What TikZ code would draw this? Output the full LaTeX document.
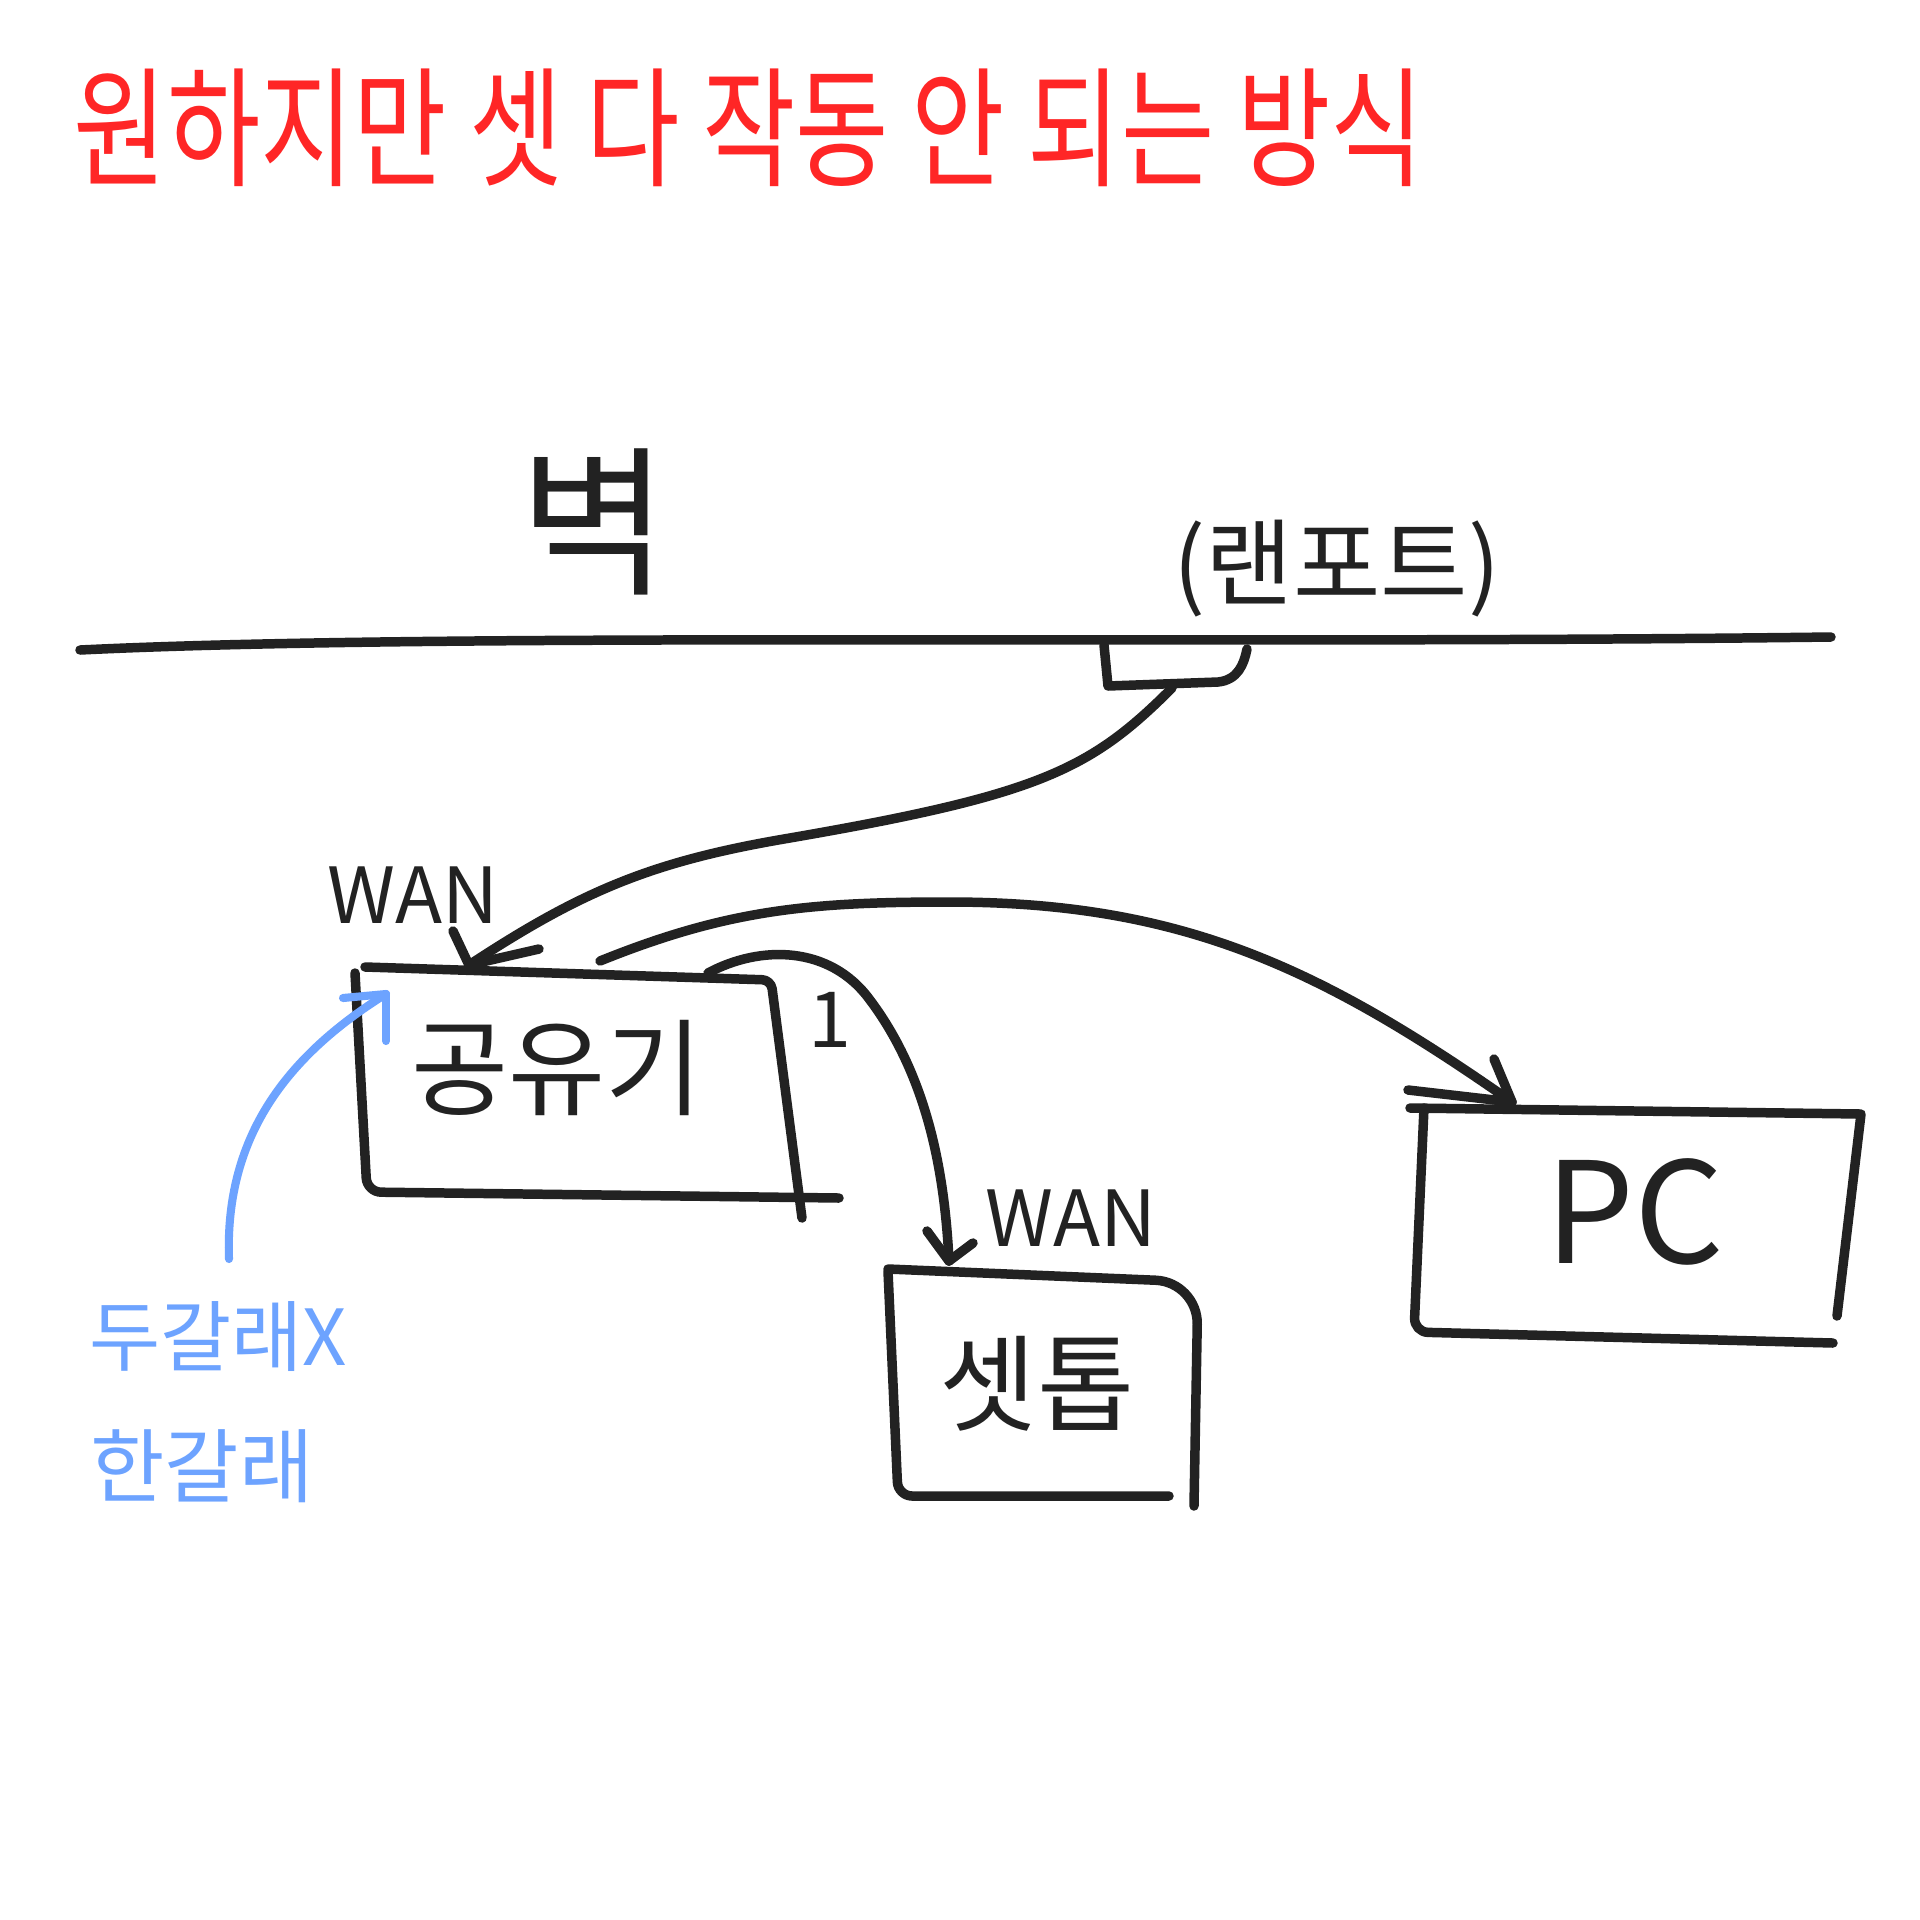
\documentclass[tikz,border=0pt]{standalone}
\usepackage{fontspec}
\newfontfamily\kr{Noto Sans CJK KR}
\newcommand\fsz[1]{\fontsize{#1}{#1}\selectfont}
\definecolor{inkc}{HTML}{222222}
\definecolor{redc}{HTML}{FF2626}
\definecolor{bluec}{HTML}{6DA3FF}
\begin{document}
\begin{tikzpicture}[x=0.01cm,y=-0.01cm,
  ink/.style={draw=inkc, line width=2.7pt, line cap=round, line join=round},
  blueink/.style={draw=bluec, line width=2.3pt, line cap=round, line join=round},
  lbl/.style={text=inkc, inner sep=0pt, font=\kr},
  boxnode/.style={draw=none, inner sep=0pt}]
\useasboundingbox[fill=white] (0,0) rectangle (1920,1920);

% title
\node[anchor=west, inner sep=0pt, text=redc, font=\kr\fsz{37}] (title) at (73,128)
  {\scalebox{0.78}[1]{원하지만 셋 다 작동 안 되는 방식}};

% wall
\draw[ink] (80,650) .. controls (450,632) and (1200,645) .. (1831,637);
\node[lbl, font=\kr\fsz{46}] (wallLabel) at (594,522) {벽};
\node[lbl, font=\kr\fsz{27}] (lanLabel) at (1337,569) {(랜포트)};
% lan port
\draw[ink] (1104,645) -- (1108,686) -- (1218,682) .. controls (1238,680) and (1244,664) .. (1247,649);
\coordinate (port) at (1172,688);

% router box
\node[boxnode, minimum width=4.2cm, minimum height=2.25cm] (router) at (572,1085) {};
\draw[ink, rounded corners=2.5pt] (365,967) -- (771,980) -- (802,1218);
\draw[ink, rounded corners=4pt] (355,973) -- (367,1192) -- (839,1198);
\node[lbl, font=\kr\fsz{30}] (routerLabel) at (557,1068) {공유기};
\coordinate (rWan) at (469,965);
\coordinate (rOut1) at (600,961);
\coordinate (rOut2) at (708,973);
\node[lbl, font=\kr\fsz{22}] (wan1) at (413,895) {WAN};
\node[lbl, font=\kr\fsz{22}] (one) at (830,1020) {1};

% set-top box
\node[boxnode, minimum width=3.1cm, minimum height=2.3cm] (stb) at (1044,1385) {};
\draw[ink, rounded corners=12pt] (888,1269) -- (1198,1282) -- (1194,1506);
\draw[ink, rounded corners=4pt] (888,1271) -- (898,1496) -- (1169,1496);
\node[lbl, font=\kr\fsz{30}] (stbLabel) at (1037,1384) {셋톱};
\node[lbl, font=\kr\fsz{22}] (wan2) at (1071,1218) {WAN};
\coordinate (stbIn) at (949,1261);

% PC box
\node[boxnode, minimum width=4.4cm, minimum height=2.3cm] (pc) at (1640,1225) {};
\draw[ink] (1410,1108) -- (1861,1114) -- (1837,1316);
\draw[ink, rounded corners=4pt] (1424,1108) -- (1414,1332) -- (1833,1343);
\node[lbl, font=\kr\fsz{40}] (pcLabel) at (1635,1212) {PC};
\coordinate (pcIn) at (1512,1102);

% connectors
\draw[ink] (port) .. controls (1090,770) and (1040,795) .. (784,839)
  .. controls (650,862) and (580,892) .. (rWan);
\draw[ink] (rWan) -- ++(-16,-34);
\draw[ink] (rWan) -- ++(70,-16);

\draw[ink] (rOut1) to[out=22, in=180] (949,902) to[out=0, in=145] (pcIn);
\draw[ink] (pcIn) -- ++(-104,-12);
\draw[ink] (pcIn) -- ++(-18,-43);

\draw[ink] (rOut2) .. controls (760,945) and (830,945) .. (870,1000)
  .. controls (930,1080) and (945,1180) .. (stbIn);
\draw[ink] (stbIn) -- ++(-22,-30);
\draw[ink] (stbIn) -- ++(24,-18);

% blue note
\coordinate (bTip) at (386,994);
\coordinate (bStart) at (229,1259);
\draw[blueink] (bStart) to[out=92, in=212] (bTip);
\draw[blueink] (bTip) -- ++(-43,4);
\draw[blueink] (bTip) -- ++(0,47);
\node[inner sep=0pt, text=bluec, font=\kr\fsz{22}] (note1) at (218,1337) {두갈래X};
\node[inner sep=0pt, text=bluec, font=\kr\fsz{23}] (note2) at (202,1466) {한갈래};
\end{tikzpicture}
\end{document}
